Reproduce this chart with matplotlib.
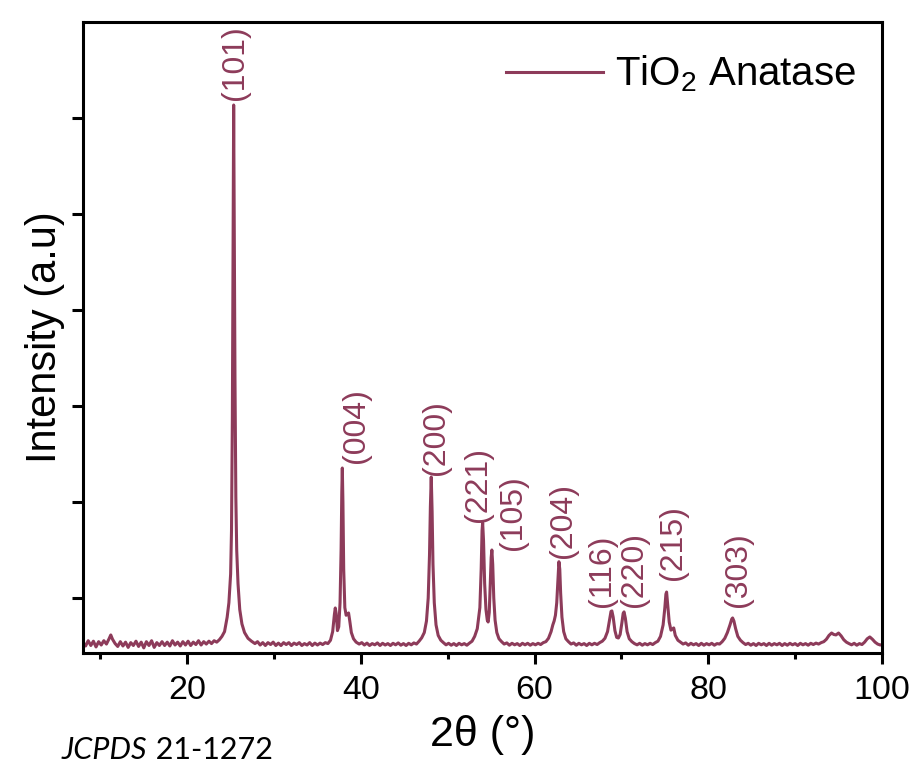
import numpy as np
import matplotlib
matplotlib.use('Agg')
import matplotlib.pyplot as plt
from matplotlib.ticker import MultipleLocator

plt.rcParams['font.family'] = ['Liberation Sans', 'DejaVu Sans']
plt.rcParams['mathtext.fontset'] = 'custom'
plt.rcParams['mathtext.rm'] = 'Liberation Sans'
plt.rcParams['mathtext.it'] = 'Liberation Sans:italic'

#%% XRD trace (2theta in degrees, intensity in arbitrary counts)
two_theta = [
    # low angle baseline
    8.0, 8.3, 8.6, 8.9, 9.2, 9.5, 9.8, 10.1, 10.4, 10.7, 11.0, 11.2, 11.4, 11.7, 12.0, 12.3, 12.6, 12.9,
    13.2, 13.5, 13.8, 14.1, 14.4, 14.7, 15.0, 15.3, 15.6, 15.9, 16.2, 16.5, 16.8, 17.1, 17.4, 17.7, 18.0,
    18.3, 18.6, 18.9, 19.2, 19.5, 19.8, 20.1, 20.4, 20.7, 21.0, 21.3, 21.6, 21.9, 22.2, 22.5, 22.8, 23.1, 23.4,
    # (101)
    23.7, 24.0, 24.3, 24.6, 24.8, 25.0, 25.1, 25.2, 25.28, 25.35, 25.42, 25.5, 25.6, 25.7, 25.85, 26.05,
    26.3, 26.6, 27.0, 27.4,
    # baseline
    27.8, 28.1, 28.4, 28.7, 29.0, 29.3, 29.6, 29.9, 30.2, 30.5, 30.8, 31.1, 31.4, 31.7, 32.0, 32.3, 32.6,
    32.9, 33.2, 33.5, 33.8, 34.1, 34.4, 34.7, 35.0, 35.3, 35.6, 35.9, 36.2, 36.5,
    # (004) with side peaks
    36.75, 36.95, 37.05, 37.15, 37.3, 37.45, 37.6, 37.72, 37.8, 37.86, 37.93, 38.02, 38.15, 38.3, 38.45,
    38.58, 38.72, 38.9, 39.15, 39.45,
    # baseline
    39.8, 40.1, 40.4, 40.7, 41.0, 41.3, 41.6, 41.9, 42.2, 42.5, 42.8, 43.1, 43.4, 43.7, 44.0, 44.3, 44.6,
    44.9, 45.2, 45.5, 45.8, 46.1, 46.4, 46.7,
    # (200)
    47.0, 47.3, 47.55, 47.75, 47.9, 48.0, 48.1, 48.2, 48.3, 48.45, 48.65, 48.9, 49.2, 49.5,
    # baseline
    49.8, 50.1, 50.4, 50.7, 51.0, 51.3, 51.6, 51.9, 52.2, 52.5,
    # (221) + (105)
    52.8, 53.1, 53.4, 53.7, 53.85, 53.95, 54.02, 54.12, 54.25, 54.4, 54.55, 54.65, 54.78, 54.9, 55.0,
    55.08, 55.18, 55.3, 55.45, 55.65, 55.9, 56.2,
    # baseline
    56.5, 56.8, 57.1, 57.4, 57.7, 58.0, 58.3, 58.6, 58.9, 59.2, 59.5, 59.8, 60.1, 60.4, 60.7, 61.0,
    # (204)
    61.3, 61.6, 61.9, 62.1, 62.25, 62.4, 62.55, 62.7, 62.8, 62.9, 63.0, 63.15, 63.35, 63.6, 63.9,
    # baseline
    64.2, 64.5, 64.8, 65.1, 65.4, 65.7, 66.0, 66.3, 66.6, 66.9, 67.2, 67.5,
    # (116) + (220)
    67.8, 68.1, 68.4, 68.65, 68.8, 68.9, 69.05, 69.25, 69.45, 69.65, 69.85, 70.05, 70.2, 70.3, 70.45,
    70.65, 70.9, 71.2,
    # baseline
    71.5, 71.8, 72.1, 72.4, 72.7, 73.0, 73.3, 73.6, 73.9,
    # (215)
    74.2, 74.5, 74.8, 75.0, 75.12, 75.2, 75.32, 75.5, 75.7, 75.9, 76.02, 76.2, 76.5, 76.8,
    # baseline
    77.1, 77.4, 77.7, 78.0, 78.3, 78.6, 78.9, 79.2, 79.5, 79.8, 80.1, 80.4, 80.7, 81.0, 81.3,
    # (303)
    81.6, 81.9, 82.2, 82.5, 82.7, 82.8, 82.95, 83.15, 83.4, 83.7, 84.0,
    # baseline
    84.3, 84.6, 84.9, 85.2, 85.5, 85.8, 86.1, 86.4, 86.7, 87.0, 87.3, 87.6, 87.9, 88.2, 88.5, 88.8, 89.1,
    89.4, 89.7, 90.0, 90.3, 90.6, 90.9, 91.2, 91.5, 91.8, 92.1, 92.4, 92.7, 93.0, 93.3,
    # small doublet
    93.6, 93.9, 94.2, 94.45, 94.7, 95.0, 95.3, 95.6, 95.9,
    # tail
    96.2, 96.5, 96.8, 97.1, 97.4, 97.7, 98.0, 98.3, 98.6, 98.9, 99.2, 99.5, 99.8, 100.0,
]

counts = [
    540, 500, 555, 505, 550, 490, 545, 510, 555, 520, 575, 615, 570, 525, 495, 545, 500, 540,
    485, 535, 505, 550, 495, 540, 480, 545, 505, 555, 485, 535, 505, 545, 505, 540, 500,
    555, 510, 540, 500, 545, 510, 550, 505, 540, 515, 555, 510, 545, 520, 550, 525, 555, 540,

    565, 600, 650, 800, 950, 1250, 1700, 2900, 4600, 6135, 4900, 3300, 2050, 1500, 1150, 880,
    730, 640, 580, 550,

    525, 545, 510, 535, 505, 535, 515, 540, 505, 530, 505, 535, 515, 535, 505, 530, 515,
    535, 505, 525, 510, 535, 505, 530, 510, 530, 515, 535, 525, 560,

    650, 830, 896, 840, 660, 700, 950, 1500, 2100, 2354, 2000, 1300, 900, 820, 830,
    844, 760, 640, 575, 540,

    520, 535, 510, 530, 505, 525, 512, 532, 505, 528, 510, 525, 505, 528, 512, 532, 508,
    525, 505, 528, 512, 532, 520, 550,

    585, 640, 760, 1000, 1450, 1950, 2260, 1900, 1350, 950, 720, 610, 560, 535,

    512, 528, 508, 525, 505, 528, 512, 525, 508, 530,

    550, 600, 680, 900, 1300, 1700, 1784, 1600, 1150, 880, 770, 750, 850, 1150, 1420,
    1500, 1350, 1000, 770, 640, 575, 545,

    520, 532, 508, 528, 512, 525, 505, 528, 512, 528, 508, 525, 512, 528, 515, 535,

    545, 580, 650, 720, 760, 820, 950, 1200, 1378, 1300, 1050, 800, 650, 575, 545,

    520, 532, 508, 528, 512, 525, 505, 528, 512, 528, 515, 535,

    550, 580, 650, 780, 860, 865, 800, 660, 590, 583, 620, 740, 840, 855, 790,
    650, 575, 545,

    525, 512, 528, 508, 525, 512, 528, 515, 535,

    550, 600, 720, 900, 1040, 1062, 940, 750, 665, 680, 688, 610, 560, 540,

    520, 532, 508, 528, 512, 525, 505, 528, 508, 525, 512, 528, 508, 525, 520,

    545, 580, 640, 720, 780, 792, 760, 680, 600, 560, 535,

    515, 528, 508, 525, 505, 528, 512, 525, 505, 528, 508, 525, 512, 528, 505, 525, 508,
    528, 512, 525, 505, 528, 512, 525, 508, 528, 515, 530, 520, 535, 545,

    570, 610, 635, 620, 615, 635, 605, 565, 540,

    525, 512, 528, 508, 525, 515, 540, 575, 594, 570, 540, 520, 510, 515,
]

assert len(two_theta) == len(counts), (len(two_theta), len(counts))

# hkl labels: position of the label (2theta) and the bottom of the text (counts)
hkl = ['(101)', '(004)', '(200)', '(221)', '(105)', '(204)', '(116)', '(220)', '(215)', '(303)']
hkl_x = [25.5, 39.4, 48.6, 53.5, 57.5, 63.3, 67.8, 71.5, 75.9, 83.4]
hkl_y = [6190, 2410, 2285, 1795, 1500, 1420, 905, 905, 1190, 905]

ytick_vals = [1000, 2000, 3000, 4000, 5000, 6000]

line_col = '#8d3b5a'

#%% figure
fig = plt.figure(figsize=(9.10, 7.64), dpi=100)
ax = fig.add_axes([0.0912, 0.1453, 0.8780, 0.8259])

ax.plot(two_theta, counts, color=line_col, lw=2.2, label='TiO$_2$ Anatase')

for lab, xx, yy in zip(hkl, hkl_x, hkl_y):
    ax.text(xx, yy, lab, rotation=90, ha='center', va='bottom', color=line_col, fontsize=23)

ax.set_xlim(8, 100)
ax.set_ylim(427, 7000)
ax.xaxis.set_major_locator(MultipleLocator(20))
ax.xaxis.set_minor_locator(MultipleLocator(10))
ax.set_yticks(ytick_vals)
ax.set_yticklabels([])

for sp in ax.spines.values():
    sp.set_linewidth(2.2)
ax.tick_params(axis='both', which='major', direction='out', length=8, width=2.2, labelsize=24.5, pad=8)
ax.tick_params(axis='x', which='minor', direction='out', length=4.5, width=2.2)

ax.set_xlabel('2θ (°)', fontsize=31, labelpad=6)
ax.set_ylabel('Intensity (a.u)', fontsize=30, labelpad=-3)

leg = ax.legend(loc='upper right', frameon=False, fontsize=29, handlelength=2.4,
                handletextpad=0.3, borderaxespad=0.15, bbox_to_anchor=(0.995, 0.985))

# reference card
t1 = fig.text(62 / 910, 5 / 764, 'JCPDS', fontsize=22, style='italic', family=['Lato', 'DejaVu Sans'])
ax.annotate(' 21-1272', xy=(1, 0), xycoords=t1, va='bottom', ha='left',
            fontsize=22, family=['Lato', 'DejaVu Sans'], annotation_clip=False)

fig.savefig('out.png', dpi=100)
